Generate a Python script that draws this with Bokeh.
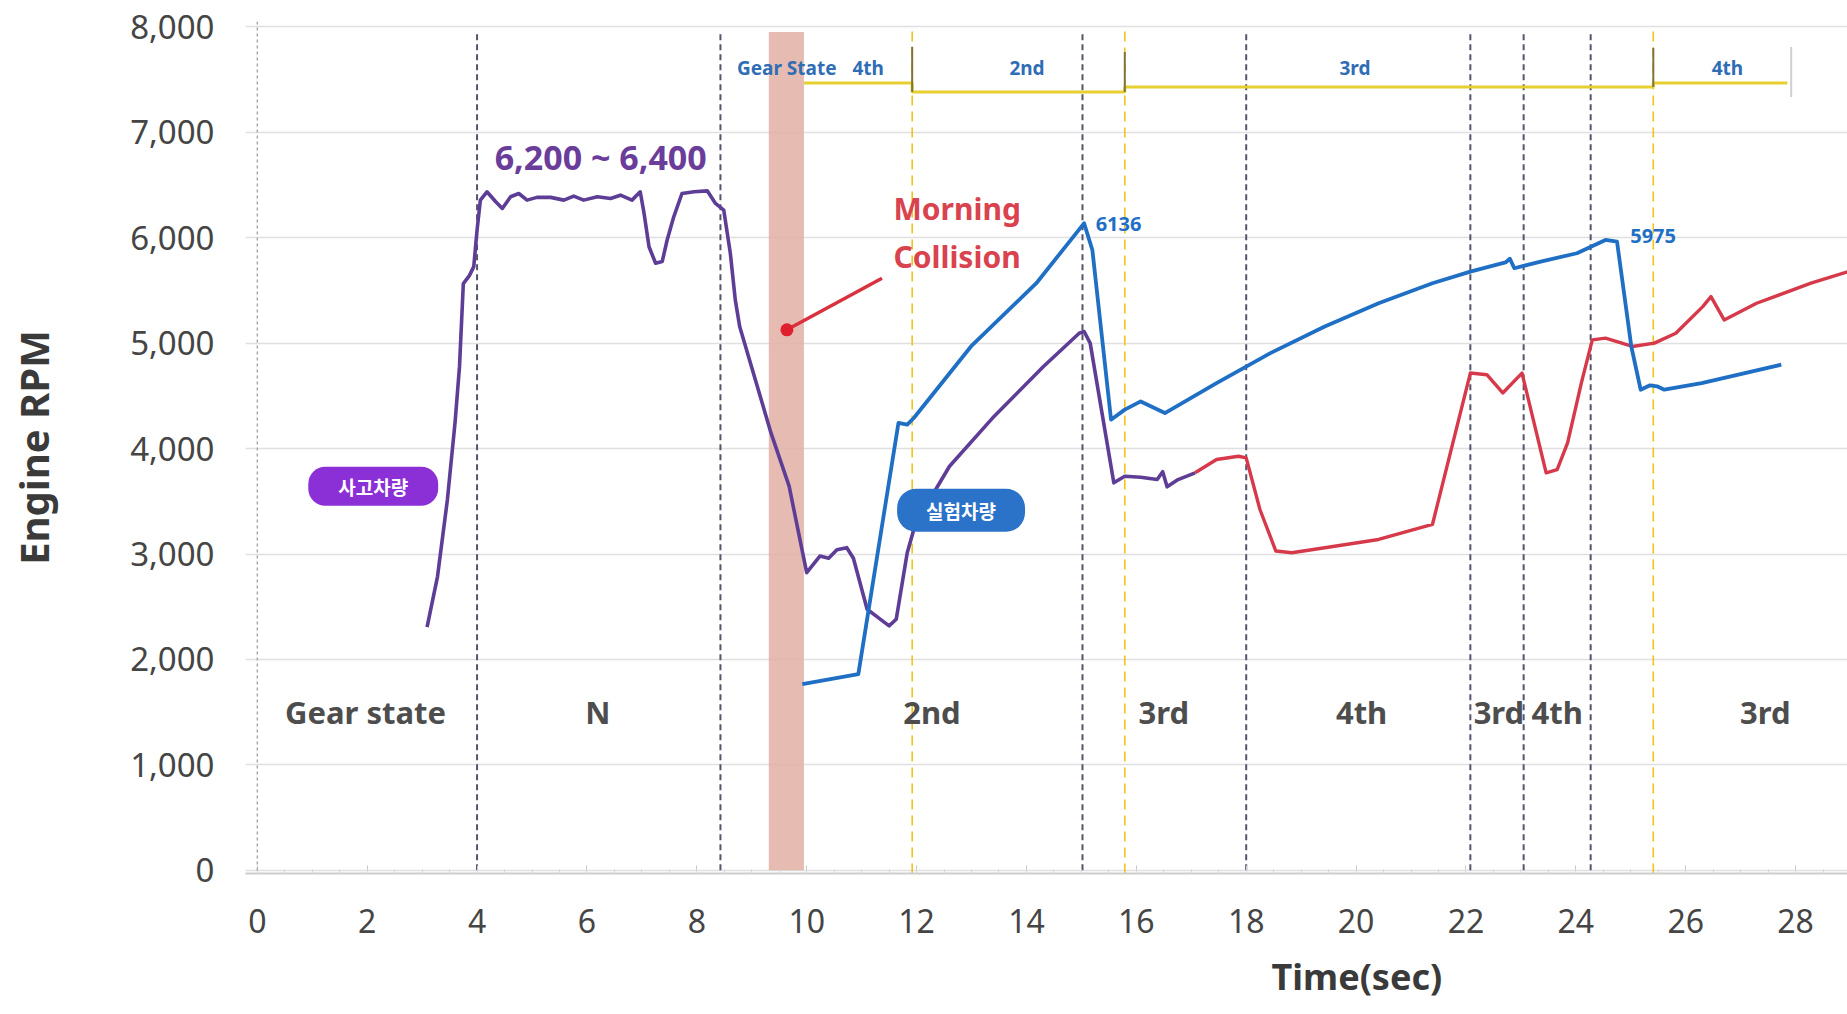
from bokeh.plotting import figure
from bokeh.models import Label, Span, NumeralTickFormatter, FixedTicker, Range1d, Title
from bokeh.core.properties import value
from bokeh.embed import file_html
from bokeh.resources import INLINE

# ---------------- data ----------------
# accident vehicle (purple) engine rpm
purple_t = [3.09, 3.28, 3.46, 3.60, 3.68, 3.75, 3.86, 3.94, 4.00, 4.06, 4.18, 4.34, 4.46, 4.61, 4.76,
            4.91, 5.09, 5.34, 5.58, 5.76, 5.94, 6.19, 6.43, 6.61, 6.82, 6.97, 7.04, 7.13, 7.25, 7.37,
            7.46, 7.58, 7.73, 7.95, 8.19, 8.34, 8.49, 8.61, 8.70, 8.78, 9.35, 9.68, 10.00, 10.24, 10.40,
            10.55, 10.73, 10.85, 11.10, 11.26, 11.50, 11.63, 11.83, 11.95, 12.24, 12.60, 13.41, 14.31,
            14.96, 15.05, 15.16, 15.59, 15.79, 16.08, 16.38, 16.48, 16.56, 16.76, 17.07]
purple_rpm = [2306, 2786, 3515, 4250, 4774, 5565, 5640, 5725, 6072, 6356, 6435, 6340, 6277, 6388, 6419,
              6356, 6382, 6382, 6356, 6394, 6356, 6388, 6372, 6403, 6356, 6435, 6230, 5914, 5757, 5773,
              5978, 6198, 6419, 6435, 6444, 6325, 6262, 5852, 5410, 5157, 4148, 3643, 2823, 2980, 2960,
              3040, 3060, 2960, 2476, 2413, 2318, 2381, 3012, 3233, 3517, 3832, 4305, 4778,
              5094, 5110, 5000, 3675, 3738, 3728, 3706, 3780, 3637, 3706, 3770]

# accident vehicle continuation (red)
red_t = [17.07, 17.46, 17.86, 18.00, 18.25, 18.54, 18.83, 19.43, 20.41, 21.39, 22.08, 22.38, 22.67,
         23.02, 23.46, 23.66, 23.85, 24.10, 24.30, 24.54, 25.03, 25.43, 25.82, 26.31, 26.46, 26.70,
         27.29, 28.28, 28.95]
red_rpm = [3770, 3896, 3927, 3912, 3422, 3028, 3012, 3059, 3138, 3280, 4716, 4700, 4527,
           4716, 3770, 3800, 4054, 4621, 5031, 5047, 4968, 5000, 5094, 5346, 5441, 5220,
           5378, 5568, 5677]

# test vehicle (blue)
blue_t = [9.92, 10.94, 11.67, 11.83, 11.95, 12.99, 14.18, 14.95, 15.05, 15.20, 15.54, 15.79, 16.08,
          16.52, 17.46, 18.44, 19.43, 20.41, 21.39, 22.08, 22.72, 22.80, 22.88, 23.36, 24.02, 24.54,
          24.75, 25.01, 25.18, 25.35, 25.48, 25.61, 26.29, 27.74]
blue_rpm = [1766, 1861, 4243, 4227, 4290, 4968, 5568, 6072, 6136, 5883, 4274, 4369, 4447,
            4337, 4621, 4905, 5157, 5378, 5568, 5678, 5765, 5800, 5710, 5773, 5852, 5978,
            5962, 4968, 4558, 4600, 4590, 4558, 4621, 4795]

# gear shift instants
accident_shifts = [4.0, 8.43, 15.02, 18.0, 22.08, 23.05, 24.27]
test_shifts = [11.92, 15.79, 25.41]

# accident vehicle gear state labels (bottom)
gear_text = ["Gear state", "N", "2nd", "3rd", "4th", "3rd", "4th", "3rd"]
gear_text_t = [1.97, 6.2, 12.28, 16.5, 20.1, 22.6, 23.66, 27.45]
gear_text_rpm = 1500

# test vehicle gear state bar (top)
bar_edges = [9.95, 11.92, 15.79, 25.41, 27.85]
bar_levels = [7466, 7381, 7429, 7466]
bar_labels = ["4th", "2nd", "3rd", "4th"]
bar_label_t = [11.12, 14.01, 19.98, 26.76]
bar_label_rpm = 7609

# collision window
collision_band = (9.31, 9.95)

# peak annotations
peak_text = ["6136", "5975"]
peak_t = [15.26, 24.99]
peak_rpm = [6129, 6019]

x_ticks = list(range(0, 29, 2))
y_ticks = list(range(0, 8001, 1000))

# ---------------- figure ----------------
p = figure(width=1847, height=1014, x_range=Range1d(-0.215, 28.945), y_range=Range1d(-30, 8050),
           output_backend="svg", toolbar_location=None,
           min_border_left=245, min_border_right=0, min_border_top=21, min_border_bottom=139)
p.outline_line_color = None
p.background_fill_color = "white"
p.xgrid.grid_line_color = None
p.ygrid.grid_line_color = "#e0e0e0"
p.ygrid.grid_line_width = 1.5

p.yaxis.ticker = FixedTicker(ticks=y_ticks)
p.yaxis.formatter = NumeralTickFormatter(format="0,0")
p.yaxis.axis_line_color = None
p.yaxis.major_tick_line_color = None
p.yaxis.minor_tick_line_color = None
p.yaxis.major_label_text_font = "Noto Sans"
p.yaxis.major_label_text_font_size = "33px"
p.yaxis.major_label_text_color = "#454545"
p.yaxis.major_label_standoff = 25
p.yaxis.axis_label = "Engine RPM"
p.yaxis.axis_label_text_font = "Noto Sans"
p.yaxis.axis_label_text_font_style = "bold"
p.yaxis.axis_label_text_font_size = "40px"
p.yaxis.axis_label_text_color = "#3a3a3a"
p.yaxis.axis_label_standoff = 66

p.xaxis.ticker = FixedTicker(ticks=x_ticks, minor_ticks=[i * 0.5 for i in range(0, 58)])
p.xaxis.axis_line_color = "#cdcdcd"
p.xaxis.axis_line_width = 2
p.xaxis.major_tick_in = 8
p.xaxis.major_tick_out = 0
p.xaxis.minor_tick_in = 4
p.xaxis.minor_tick_out = 0
p.xaxis.major_tick_line_color = "#c8c8c8"
p.xaxis.minor_tick_line_color = "#d8d8d8"
p.xaxis.major_label_text_font = "Noto Sans"
p.xaxis.major_label_text_font_size = "32px"
p.xaxis.major_label_text_color = "#454545"
p.xaxis.major_label_standoff = 35

# x axis title, placed under t = 20 as in the original
p.add_layout(Title(text="Time(sec)", align="left", offset=1026, standoff=28,
                   text_font="Noto Sans", text_font_style="bold", text_font_size="36px",
                   text_color="#3a3a3a"), "below")

# y axis dotted line at t=0
p.add_layout(Span(location=0, dimension="height", line_color="#a9a9b6", line_dash="3 3", line_width=1.5))

# collision band
p.quad(left=[collision_band[0]], right=[collision_band[1]], bottom=[0], top=[7950],
       fill_color="#e2b0a4", fill_alpha=0.85, line_color=None)

# shift lines
p.segment(x0=accident_shifts, y0=[0] * len(accident_shifts), x1=accident_shifts, y1=[7950] * len(accident_shifts),
          line_color="#54546a", line_dash="6 4", line_width=2)
p.segment(x0=test_shifts, y0=[-30] * len(test_shifts), x1=test_shifts, y1=[8000] * len(test_shifts),
          line_color="#f0c419", line_dash="10 6", line_width=1.6)

# top gear bar
p.step(x=bar_edges, y=bar_levels + [bar_levels[-1]], mode="after", line_color="#e6cf2e", line_width=3)
p.segment(x0=test_shifts, y0=[7381, 7381, 7429], x1=test_shifts, y1=[7810, 7760, 7800],
          line_color="#7d7436", line_width=2)
p.segment(x0=[27.92], y0=[7334], x1=[27.92], y1=[7807], line_color="#d0d0d0", line_width=2)

p.text(x=bar_label_t, y=[bar_label_rpm] * len(bar_labels), text=bar_labels,
       text_font=value("Noto Sans"), text_font_style="bold", text_font_size="19px",
       text_color="#2f6db5", text_align="center", text_baseline="middle")
p.add_layout(Label(x=8.73, y=bar_label_rpm, text="Gear State", text_font="Noto Sans",
                   text_font_style="bold", text_font_size="19px", text_color="#2f6db5",
                   text_align="left", text_baseline="middle"))

# series lines
p.line(purple_t, purple_rpm, line_color="#5e3d96", line_width=3.6, line_join="round")
p.line(red_t, red_rpm, line_color="#d63a4a", line_width=3.4, line_join="round")
p.line(blue_t, blue_rpm, line_color="#1f6fc5", line_width=3.8, line_join="round")

# peak labels
p.text(x=peak_t, y=peak_rpm, text=peak_text, text_font=value("Noto Sans"), text_font_style="bold",
       text_font_size="20px", text_color="#1f6fc5", text_align="left", text_baseline="middle")

# range annotation
p.add_layout(Label(x=6.25, y=6763, text="6,200 ~ 6,400", text_font="Noto Sans",
                   text_font_style="bold", text_font_size="34px", text_color="#6a3d9a",
                   text_align="center", text_baseline="middle"))

# collision annotation
p.segment(x0=[9.64], y0=[5126], x1=[11.37], y1=[5615], line_color="#d8323f", line_width=3.5)
p.scatter(x=[9.64], y=[5126], size=13, fill_color="#e0202e", line_color=None)
p.add_layout(Label(x=11.58, y=6280, text="Morning", text_font="Noto Sans", text_font_style="bold",
                   text_font_size="30px", text_color="#d9434e", text_align="left", text_baseline="middle"))
p.add_layout(Label(x=11.58, y=5826, text="Collision", text_font="Noto Sans", text_font_style="bold",
                   text_font_size="30px", text_color="#d9434e", text_align="left", text_baseline="middle"))

# gear state labels (bottom)
p.text(x=gear_text_t, y=[gear_text_rpm] * len(gear_text), text=gear_text, text_font=value("Noto Sans"),
       text_font_style="bold", text_font_size="31px", text_color="#4d4d4d",
       text_align="center", text_baseline="middle")

# badges
p.add_layout(Label(x=2.11, y=3643, text="사고차량", text_font="Noto Sans CJK KR",
                   text_font_style="bold", text_font_size="19px", text_color="white",
                   text_align="center", text_baseline="middle",
                   background_fill_color="#8b2fd6", border_radius=17,
                   padding=dict(left=30, right=30, top=6, bottom=6)))
p.add_layout(Label(x=12.81, y=3415, text="실험차량", text_font="Noto Sans CJK KR",
                   text_font_style="bold", text_font_size="19px", text_color="white",
                   text_align="center", text_baseline="middle",
                   background_fill_color="#2a73c8", border_radius=19,
                   padding=dict(left=29, right=29, top=8, bottom=8)))

open("out.html", "w").write(file_html(p, INLINE))
